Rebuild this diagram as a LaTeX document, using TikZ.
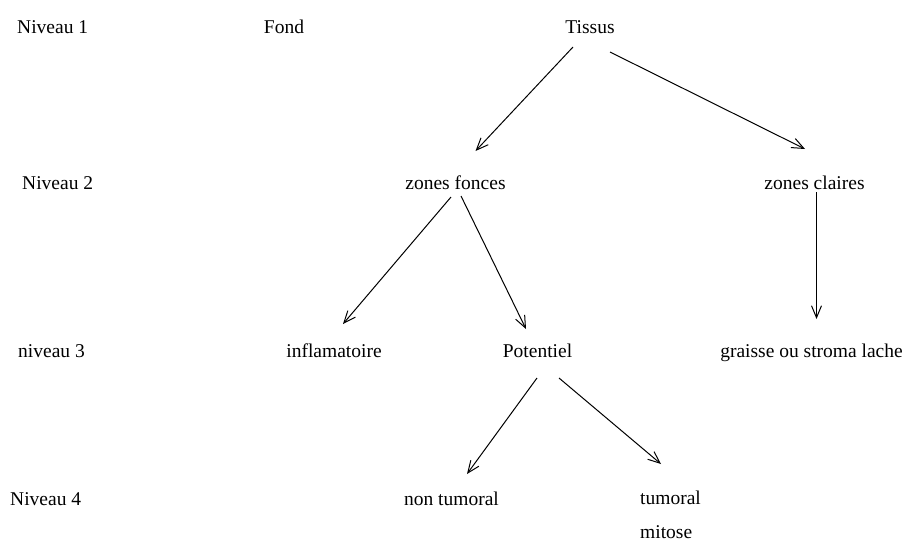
\documentclass[tikz,border=0pt]{standalone}
\usepackage{fontspec}
\setmainfont{Liberation Serif}
\usetikzlibrary{arrows.meta}
\begin{document}
\begin{tikzpicture}[x=1pt,y=-1pt,
  lbl/.style={inner sep=0pt,anchor=base,font=\fontsize{19.5}{22}\selectfont},
  lblw/.style={lbl,anchor=base west},
  arr/.style={line width=1pt,-{Straight Barb[length=12pt,width=10pt,line width=1pt]}}]
\useasboundingbox (0,0) rectangle (912,542);
% level labels
\node[lblw] (n1) at (17,33) {Niveau 1};
\node[lblw] (n2) at (22,189) {Niveau 2};
\node[lblw] (n3) at (18,357) {niveau 3};
\node[lblw] (n4) at (10,505) {Niveau 4};
% tree nodes
\node[lbl] (fond) at (284,33) {Fond};
\node[lbl] (tissus) at (590,33) {Tissus};
\node[lbl] (fonces) at (455.5,189) {zones fonces};
\node[lbl] (claires) at (814.5,189) {zones claires};
\node[lbl] (inflam) at (334,357) {inflamatoire};
\node[lbl] (pot) at (537.5,357) {Potentiel};
\node[lbl] (graisse) at (811.5,357) {graisse ou stroma lache};
\node[lbl] (nontum) at (451.5,505) {non tumoral};
\node[lblw] (tum) at (640,504) {tumoral};
\node[lblw] (mit) at (640,538) {mitose};
% connectors
\draw[arr] ([shift={(-17,14)}]tissus.base) -- ([shift={(20,-38)}]fonces.base);
\draw[arr] ([shift={(20,19)}]tissus.base) -- ([shift={(-9.5,-40)}]claires.base);
\draw[arr] ([shift={(-4.5,8)}]fonces.base) -- ([shift={(9,-33)}]inflam.base);
\draw[arr] ([shift={(5.5,7)}]fonces.base) -- ([shift={(-11.5,-28)}]pot.base);
\draw[arr] ([shift={(2,3)}]claires.base) -- ([shift={(5,-38)}]graisse.base);
\draw[arr] ([shift={(-0.5,21)}]pot.base) -- ([shift={(15.5,-31)}]nontum.base);
\draw[arr] ([shift={(21.5,21)}]pot.base) -- ([shift={(21,-40)}]tum.base west);
\end{tikzpicture}
\end{document}
